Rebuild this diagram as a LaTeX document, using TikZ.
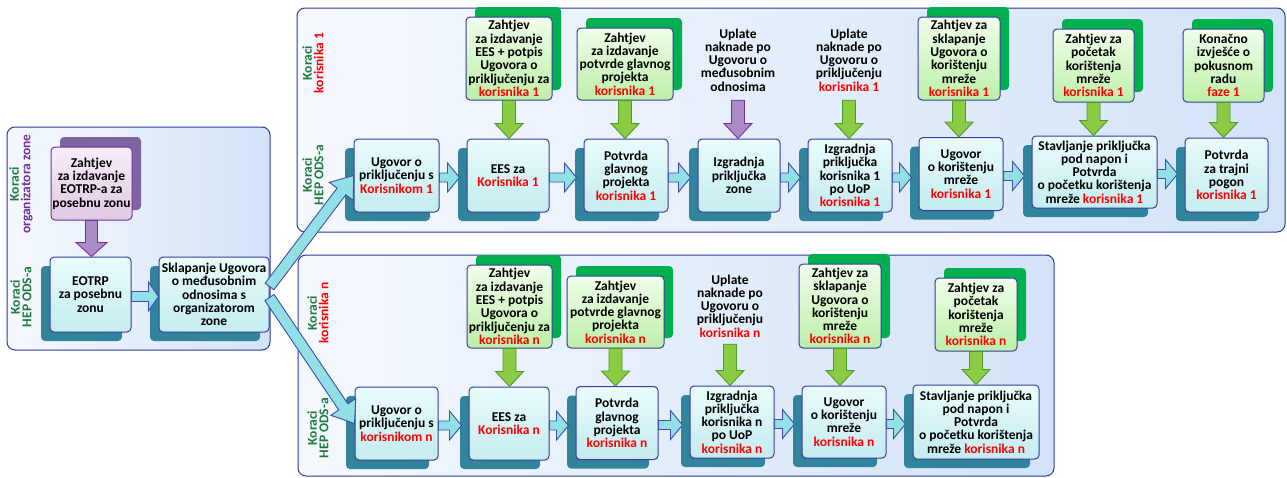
\documentclass[tikz,border=0pt]{standalone}
\usepackage{fontspec}
\setmainfont{Carlito}
\usetikzlibrary{calc,shadows}
\definecolor{boxblue}{HTML}{3B3B9E}
\definecolor{stepT}{HTML}{EAFBFB}
\definecolor{stepB}{HTML}{C4ECEF}
\definecolor{shteal}{HTML}{31849B}
\definecolor{reqT}{HTML}{F0FEEA}
\definecolor{reqB}{HTML}{BDEFA9}
\definecolor{shgreen}{HTML}{00B050}
\definecolor{purpT}{HTML}{F8EEF8}
\definecolor{purpB}{HTML}{DFC8E4}
\definecolor{purpD}{HTML}{7030A0}
\definecolor{purpF}{HTML}{A98BC6}
\definecolor{shpurple}{HTML}{8064A2}
\definecolor{panelB}{HTML}{2E3A94}
\definecolor{panelL}{HTML}{F5F9FE}
\definecolor{panelR}{HTML}{D3E3F8}
\definecolor{arrB}{HTML}{3A4FA8}
\definecolor{tealF}{HTML}{92DFE6}
\definecolor{greenD}{HTML}{4E9A28}
\definecolor{greenF}{HTML}{8CCB44}
\definecolor{kgreen}{HTML}{1E7B3C}
\definecolor{kred}{HTML}{FF0000}
\newcommand\redtxt[1]{\textcolor{kred}{#1}}
\newcommand\blockarrow[6]{%
  \coordinate (baA) at (#2);
  \coordinate (baB) at (#3);
  \coordinate (baC) at ($(baB)!#6!(baA)$);
  \draw[#1] ($(baA)!#4!90:(baB)$) -- ($(baC)!#4!90:(baB)$) -- ($(baC)!#5!90:(baB)$) -- (baB)
    -- ($(baC)!#5!-90:(baB)$) -- ($(baC)!#4!-90:(baB)$) -- ($(baA)!#4!-90:(baB)$) -- cycle;
}
\tikzset{
  every node/.style={font=\bfseries\fontsize{13.5}{13.3}\selectfont, align=center, inner sep=1pt},
  stepbox/.style={draw=boxblue, line width=1pt, rounded corners=4pt, top color=stepT, bottom color=stepB,
    drop shadow={shadow xshift=-9pt, shadow yshift=-9pt, fill=shteal, opacity=1}},
  reqbox/.style={draw=boxblue, line width=1pt, rounded corners=4pt, top color=reqT, bottom color=reqB,
    drop shadow={shadow xshift=9pt, shadow yshift=10pt, fill=shgreen, opacity=1}},
  purpbox/.style={draw=purpD, line width=1pt, rounded corners=4pt, top color=purpT, bottom color=purpB,
    drop shadow={shadow xshift=9pt, shadow yshift=10pt, fill=shpurple, opacity=1}},
  panel/.style={draw=panelB, line width=1pt, rounded corners=8pt, left color=panelL, right color=panelR},
  tarrow/.style={draw=arrB, fill=tealF, line width=0.9pt, line join=miter},
  garrow/.style={draw=greenD, fill=greenF, line width=0.9pt},
  parrow/.style={draw=purpD, fill=purpF, line width=0.9pt},
  lab/.style={rotate=90, font=\bfseries\fontsize{13.5}{11.6}\selectfont},
  plain/.style={minimum width=80pt},
}
\begin{document}
\begin{tikzpicture}[x=1pt,y=-1pt]
\useasboundingbox (0,0) rectangle (1287,477);
% panels
\draw[panel] (7,127) rectangle (270,350);
\draw[panel] (297,8) rectangle (1285,232);
\draw[panel] (298,255) rectangle (1054,476);
% labels
\node[lab] (lo) at (21,184) {\textcolor{kgreen}{Koraci}\\\textcolor{purpD}{organizatora zone}};
\node[lab] (lh) at (21,297) {\textcolor{kgreen}{Koraci}\\\textcolor{kgreen}{HEP ODS-a}};
\node[lab] (tk) at (313,63) {\textcolor{kgreen}{Koraci}\\\redtxt{korisnika 1}};
\node[lab] (th) at (313,175) {\textcolor{kgreen}{Koraci}\\\textcolor{kgreen}{HEP ODS-a}};
\node[lab] (bk) at (318,313) {\textcolor{kgreen}{Koraci}\\\redtxt{korisnika n}};
\node[lab] (bh) at (318,428) {\textcolor{kgreen}{Koraci}\\\textcolor{kgreen}{HEP ODS-a}};
% left panel
\node[purpbox, minimum width=81pt, minimum height=73pt] (pz) at (91.5,183.5) {Zahtjev\\za izdavanje\\EOTRP-a za\\posebnu zonu};
\node[stepbox, minimum width=81pt, minimum height=75pt] (eo) at (90.5,294.5) {EOTRP\\za posebnu\\zonu};
\node[stepbox, minimum width=110pt, minimum height=75pt] (sk) at (214,294.5) {Sklapanje Ugovora\\o međusobnim\\odnosima s\\organizatorom\\zone};
% top panel steps
\node[stepbox, minimum width=85pt, minimum height=73pt] (t1) at (396.5,175.5) {Ugovor o\\priključenju s\\\redtxt{Korisnikom 1}};
\node[stepbox, minimum width=82pt, minimum height=73pt] (t2) at (508,175.5) {EES za\\\redtxt{Korisnika 1}};
\node[stepbox, minimum width=84pt, minimum height=73pt] (t3) at (626,175.5) {Potvrda\\glavnog\\projekta\\\redtxt{korisnika 1}};
\node[stepbox, minimum width=82pt, minimum height=73pt] (t4) at (739,175.5) {Izgradnja\\priključka\\zone};
\node[stepbox, minimum width=84pt, minimum height=73pt] (t5) at (850,175.5) {Izgradnja\\priključka\\korisnika 1\\po UoP\\\redtxt{korisnika 1}};
\node[stepbox, minimum width=84pt, minimum height=73pt] (t6) at (961,174) {Ugovor\\o korištenju\\mreže\\\redtxt{korisnika 1}};
\node[stepbox, minimum width=125pt, minimum height=72pt] (t7) at (1094.5,172) {Stavljanje priključka\\pod napon i\\Potvrda\\o početku korištenja\\mreže \redtxt{korisnika 1}};
\node[stepbox, minimum width=83pt, minimum height=74pt] (t8) at (1226.5,175) {Potvrda\\za trajni\\pogon\\\redtxt{korisnika 1}};
% top panel requests
\node[reqbox, minimum width=86pt, minimum height=83pt] (r1) at (509,58.5) {Zahtjev\\za izdavanje\\EES + potpis\\Ugovora o\\priključenju za\\\redtxt{korisnika 1}};
\node[reqbox, minimum width=96pt, minimum height=72pt] (r2) at (625,64) {Zahtjev\\za izdavanje\\potvrde glavnog\\projekta\\\redtxt{korisnika 1}};
\node[plain, minimum height=80pt] (u1) at (738,60) {Uplate\\naknade po\\Ugovoru o\\međusobnim\\odnosima};
\node[plain, minimum height=80pt] (u2) at (849,60) {Uplate\\naknade po\\Ugovoru o\\priključenju\\\redtxt{korisnika 1}};
\node[reqbox, minimum width=82pt, minimum height=83pt] (r3) at (959,58.5) {Zahtjev za\\sklapanje\\Ugovora o\\korištenju\\mreže\\\redtxt{korisnika 1}};
\node[reqbox, minimum width=81pt, minimum height=73pt] (r4) at (1093.5,65.5) {Zahtjev za\\početak\\korištenja\\mreže\\\redtxt{korisnika 1}};
\node[reqbox, minimum width=81pt, minimum height=73pt] (r5) at (1223.5,65.5) {Konačno\\izvješće o\\pokusnom\\radu\\\redtxt{faze 1}};
% bottom panel steps
\node[stepbox, minimum width=83pt, minimum height=73pt] (b1) at (396.5,423.5) {Ugovor o\\priključenju s\\\redtxt{korisnikom n}};
\node[stepbox, minimum width=80pt, minimum height=73pt] (b2) at (509,423.5) {EES za\\\redtxt{Korisnika n}};
\node[stepbox, minimum width=82pt, minimum height=73pt] (b3) at (617,423) {Potvrda\\glavnog\\projekta\\\redtxt{korisnika n}};
\node[stepbox, minimum width=84pt, minimum height=72pt] (b4) at (732,422) {Izgradnja\\priključka\\korisnika n\\po UoP\\\redtxt{korisnika n}};
\node[stepbox, minimum width=84pt, minimum height=72pt] (b5) at (844,422) {Ugovor\\o korištenju\\mreže\\\redtxt{korisnika n}};
\node[stepbox, minimum width=126pt, minimum height=74pt] (b6) at (976,422) {Stavljanje priključka\\pod napon i\\Potvrda\\o početku korištenja\\mreže \redtxt{korisnika n}};
% bottom panel requests
\node[reqbox, minimum width=85pt, minimum height=83pt] (q1) at (509.5,306.5) {Zahtjev\\za izdavanje\\EES + potpis\\Ugovora o\\priključenju za\\\redtxt{korisnika n}};
\node[reqbox, minimum width=97pt, minimum height=72pt] (q2) at (615.5,312) {Zahtjev\\za izdavanje\\potvrde glavnog\\projekta\\\redtxt{korisnika n}};
\node[plain, minimum height=76pt] (u3) at (730,306) {Uplate\\naknade po\\Ugovoru o\\priključenju\\\redtxt{korisnika n}};
\node[reqbox, minimum width=82pt, minimum height=84pt] (q3) at (840,306) {Zahtjev za\\sklapanje\\Ugovora o\\korištenju\\mreže\\\redtxt{korisnika n}};
\node[reqbox, minimum width=82pt, minimum height=73pt] (q4) at (976,314.5) {Zahtjev za\\početak\\korištenja\\mreže\\\redtxt{korisnika n}};
% arrows left panel
\blockarrow{parrow}{pz.south}{pz.south |- eo.north}{6pt}{15.5pt}{14pt}
\blockarrow{tarrow}{$(eo.east)+(0,2)$}{$(sk.west)+(0,2)$}{5pt}{14.5pt}{10pt}
% diagonal arrows
\blockarrow{tarrow}{$(sk.east)+(0,-8)$}{t1.west}{5.5pt}{15pt}{20pt}
\blockarrow{tarrow}{$(sk.east)+(0,3)$}{b1.west}{5.5pt}{15pt}{20pt}
% top horizontal arrows
\foreach \a/\b in {t1/t2,t2/t3,t3/t4,t4/t5,t5/t6,t6/t7,t7/t8}{
  \blockarrow{tarrow}{$(\a.east)+(0,2)$}{$(\b.west |- \a.east)+(-7,2)$}{4.5pt}{14.5pt}{12pt}
}
% bottom horizontal arrows
\foreach \a/\b in {b1/b2,b2/b3,b3/b4,b4/b5,b5/b6}{
  \blockarrow{tarrow}{$(\a.east)+(0,2)$}{$(\b.west |- \a.east)+(-7,2)$}{4.5pt}{14.5pt}{12pt}
}
% vertical arrows top
\blockarrow{garrow}{r1.south}{r1.south |- t2.north}{6.5pt}{14pt}{15pt}
\blockarrow{garrow}{r2.south}{r2.south |- t3.north}{6.5pt}{14pt}{15pt}
\blockarrow{parrow}{u1.south}{u1.south |- t4.north}{6.5pt}{14pt}{15pt}
\blockarrow{garrow}{u2.south}{u2.south |- t5.north}{6.5pt}{14pt}{15pt}
\blockarrow{garrow}{r3.south}{r3.south |- t6.north}{6.5pt}{14pt}{15pt}
\blockarrow{garrow}{r4.south}{r4.south |- t7.north}{6.5pt}{14pt}{15pt}
\blockarrow{garrow}{r5.south}{r5.south |- t8.north}{6.5pt}{14pt}{15pt}
% vertical arrows bottom
\blockarrow{garrow}{q1.south}{q1.south |- b2.north}{6.5pt}{14pt}{15pt}
\blockarrow{garrow}{q2.south}{q2.south |- b3.north}{6.5pt}{14pt}{15pt}
\blockarrow{garrow}{u3.south}{u3.south |- b4.north}{6.5pt}{14pt}{15pt}
\blockarrow{garrow}{q3.south}{q3.south |- b5.north}{6.5pt}{14pt}{15pt}
\blockarrow{garrow}{q4.south}{q4.south |- b6.north}{6.5pt}{14pt}{15pt}
\end{tikzpicture}
\end{document}
